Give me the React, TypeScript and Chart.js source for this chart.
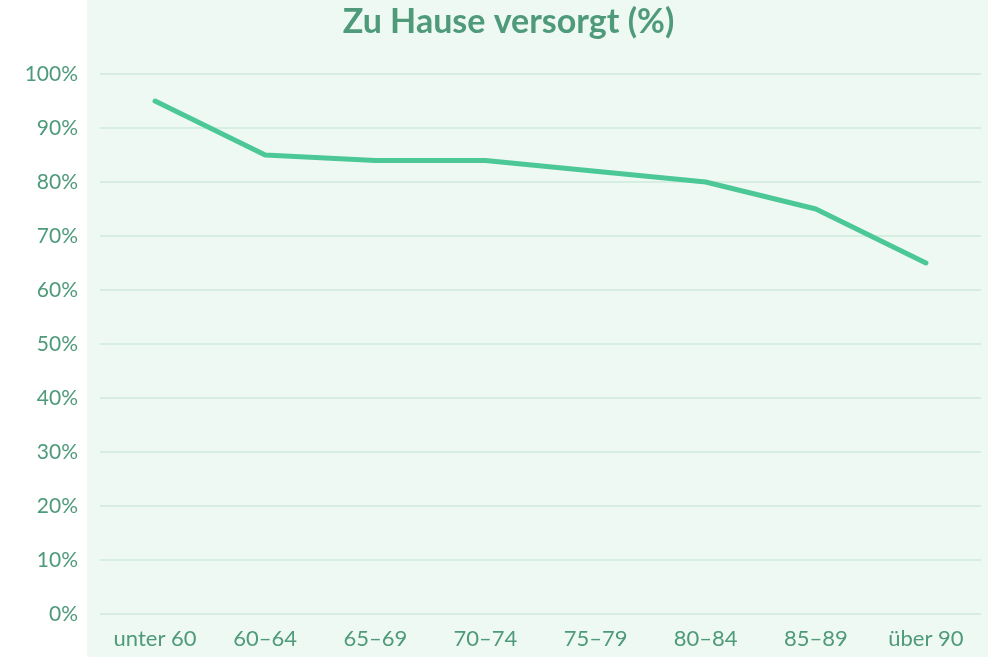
import React, { useEffect, useRef } from "react";
import { Chart, registerables } from "chart.js";

Chart.register(...registerables);

const categories = ["unter 60", "60–64", "65–69", "70–74", "75–79", "80–84", "85–89", "über 90"];
const zuHauseValues = [95, 85, 84, 84, 82, 80, 75, 65];
const chartTitle = "Zu Hause versorgt (%)";

const TEXT = "#4e9a7a";
const LINE = "#4cc896";
const GRID = "#d6ede2";
const BG = "#eff9f3";

const bgPlugin = {
  id: "bgPanel",
  beforeDraw(chart: any) {
    const { ctx, chartArea, width, height } = chart;
    ctx.save();
    ctx.fillStyle = BG;
    ctx.fillRect(chartArea.left - 13, 0, width - (chartArea.left - 13), height);
    ctx.restore();
  },
  afterDraw(chart: any) {
    const { ctx, chartArea } = chart;
    ctx.save();
    ctx.fillStyle = TEXT;
    ctx.font = "bold 34px Lato";
    ctx.textAlign = "center";
    ctx.textBaseline = "middle";
    ctx.fillText(chartTitle, (chartArea.left - 13 + chart.width) / 2 - 29, 22);
    ctx.restore();
  },
};

export default function App() {
  const ref = useRef<HTMLCanvasElement>(null);
  useEffect(() => {
    document.body.style.margin = "0";
    const chart = new Chart(ref.current!, {
      type: "line",
      data: {
        labels: categories,
        datasets: [
          {
            label: chartTitle,
            data: zuHauseValues,
            borderColor: LINE,
            borderWidth: 5,
            borderCapStyle: "round",
            borderJoinStyle: "round",
            pointRadius: 0,
            tension: 0,
            fill: false,
          },
        ],
      },
      options: {
        animation: false,
        responsive: false,
        maintainAspectRatio: false,
        layout: { padding: { right: 7, left: 0, bottom: 0, top: 74 } },
        plugins: {
          legend: { display: false },
          tooltip: { enabled: false },
          title: { display: false },
        },
        scales: {
          x: {
            offset: true,
            grid: { display: false, drawTicks: false },
            border: { display: false },
            ticks: { color: TEXT, font: { family: "Lato", size: 22 }, padding: 12, maxRotation: 0 },
            afterFit: (s: any) => { s.height = 43; },
          },
          y: {
            min: 0,
            max: 100,
            grid: { color: GRID, lineWidth: 2, drawTicks: false },
            border: { display: false },
            ticks: {
              stepSize: 10,
              color: TEXT,
              font: { family: "Lato", size: 21 },
              padding: 22,
              callback: (v: any) => v + "%",
            },
            afterFit: (s: any) => { s.width = 100; },
          },
        },
      },
      plugins: [bgPlugin],
    });
    return () => chart.destroy();
  }, []);
  return (
    <div style={{ width: 988, height: 657 }}>
      <canvas ref={ref} width={988} height={657} style={{ display: "block" }} />
    </div>
  );
}
